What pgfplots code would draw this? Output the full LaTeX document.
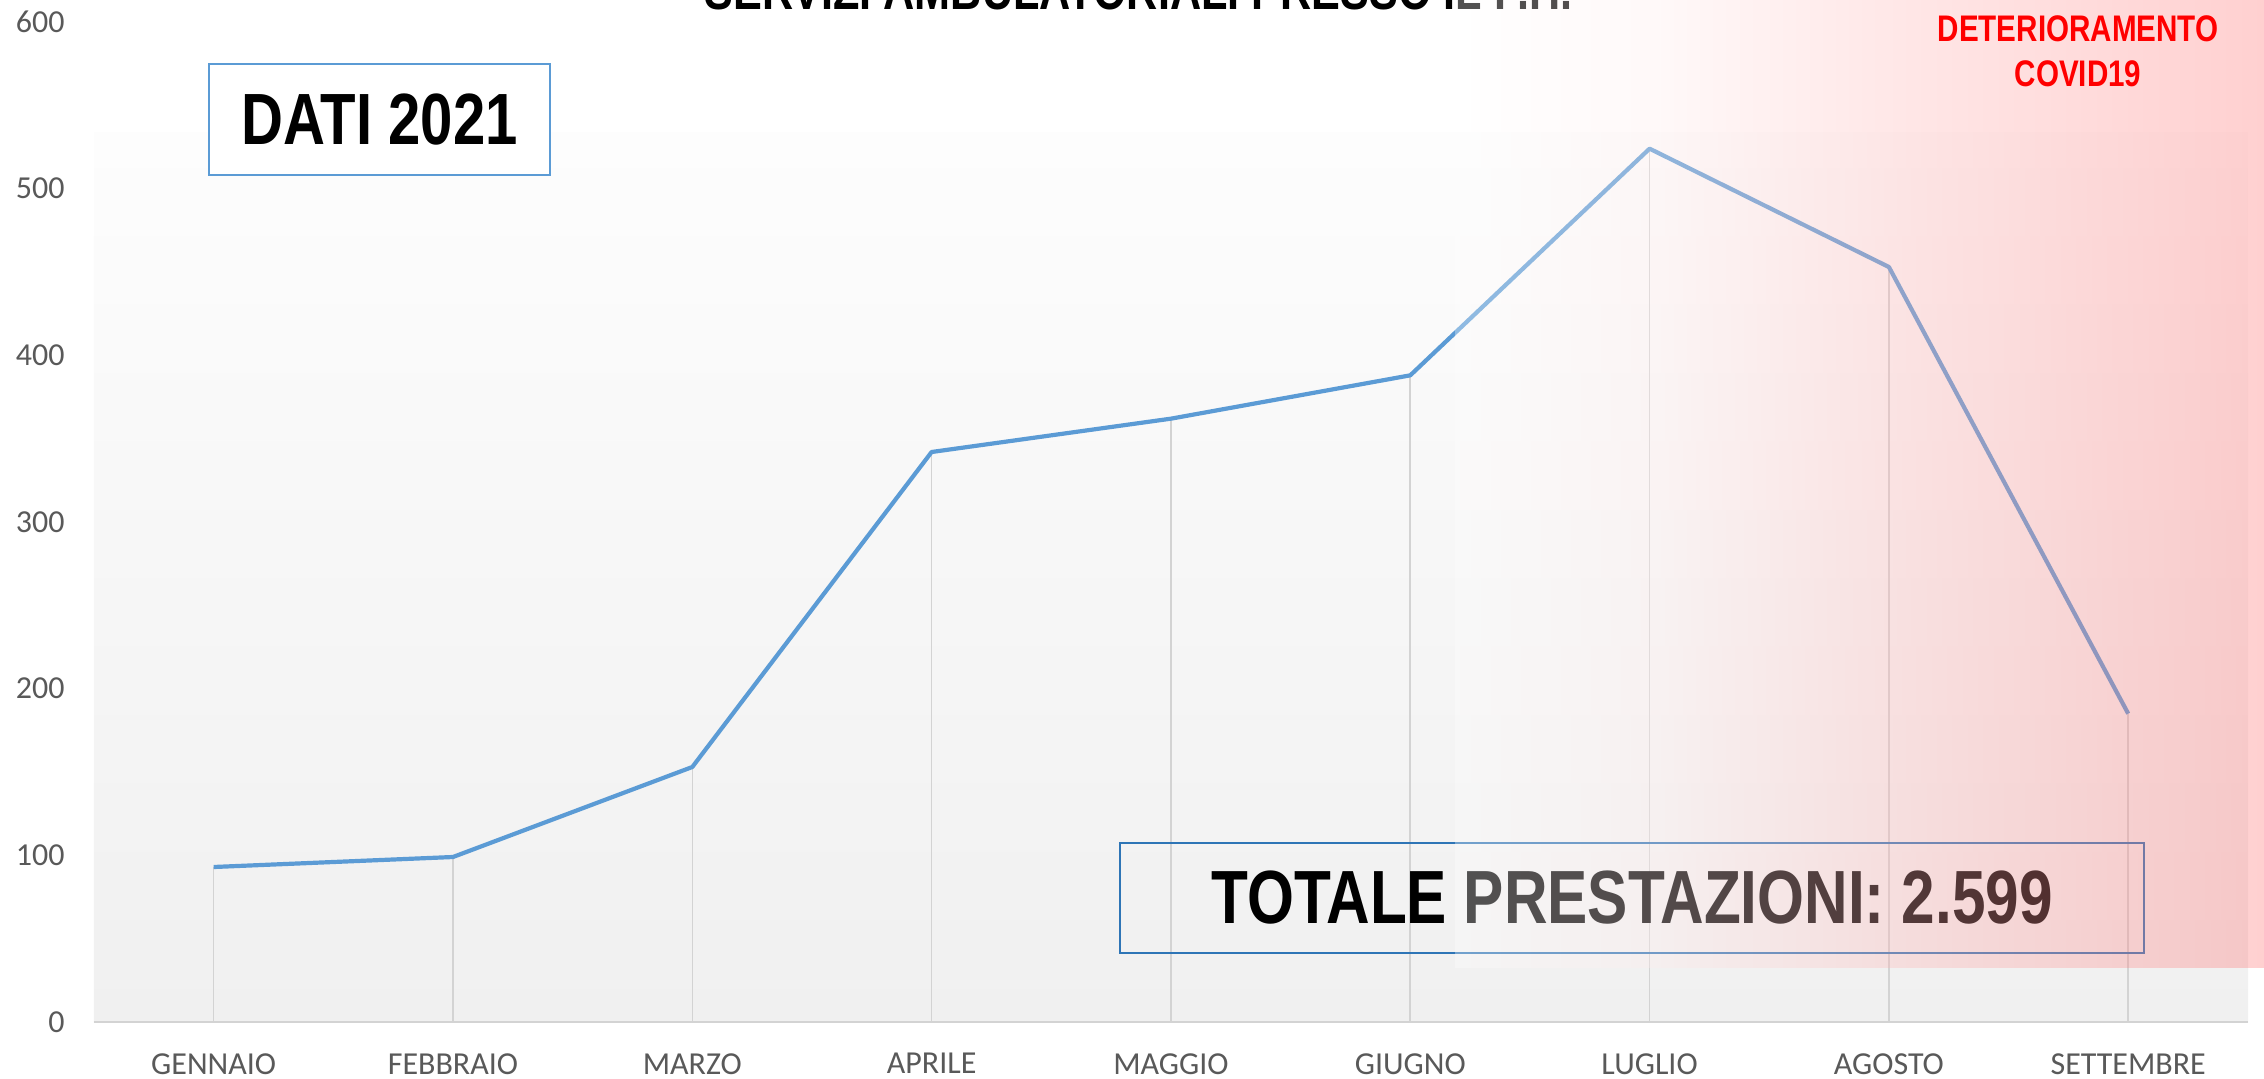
\documentclass[border=0pt]{standalone}
\usepackage{fontspec}
\setmainfont{Carlito}
\newfontfamily\narrow[FakeStretch=0.8]{Liberation Sans}
\usepackage{pgfplots}
\usepackage{pgfplotstable}
\pgfplotsset{compat=1.18}
\definecolor{lineblue}{HTML}{5B9BD5}
\definecolor{dropgray}{HTML}{D3D3D3}
\definecolor{ticktext}{HTML}{595959}
\definecolor{boxblue}{HTML}{2E75B6}
\definecolor{bgbot}{HTML}{F0F0F0}
\definecolor{bgtop}{HTML}{FDFDFD}
\pgfdeclarehorizontalshading{covid}{100bp}{color(0bp)=(white); color(25bp)=(white); color(37.5bp)=(red!8!white); color(52.5bp)=(red!30!white); color(75bp)=(red!58!white); color(100bp)=(red!58!white)}

\pgfplotstableread{
x y
0 93
1 99
2 153
3 342
4 362
5 388
6 524
7 453
8 185
}\datatable

\begin{document}
\begin{tikzpicture}[x=1pt,y=1pt]
\shade[top color=bgtop, bottom color=bgbot] (0,0) rectangle (1077,444.5);
\begin{axis}[
  at={(0,0)}, anchor=south west,
  scale only axis, width=1077pt, height=500pt,
  xmin=-0.5, xmax=8.5, ymin=0, ymax=600,
  axis x line*=bottom, axis y line*=left,
  x axis line style={draw=dropgray, line width=1pt},
  y axis line style={draw=none},
  major tick length=0pt,
  xtick style={draw=none}, ytick style={draw=none},
  xtick={0,...,8},
  xticklabels={GENNAIO,FEBBRAIO,MARZO,APRILE,MAGGIO,GIUGNO,LUGLIO,AGOSTO,SETTEMBRE},
  ytick={0,100,...,600},
  /pgf/number format/assume math mode=true,
  yticklabel style={anchor=east, inner sep=0pt, xshift=-14.5pt, font=\fontsize{16}{16}\selectfont, text=ticktext},
  xticklabel style={anchor=north, inner sep=0pt, yshift=-15.5pt, font=\fontsize{16}{16}\selectfont, text=ticktext},
  clip=false,
]
\addplot[dropgray, line width=0.8pt, ycomb, mark=none, forget plot] table[x=x,y=y] {\datatable};
\addplot[lineblue, line width=2.1pt, mark=none, line join=round] table[x=x,y=y] {\datatable};
\end{axis}
\node[draw=lineblue, line width=0.75pt, fill=white, minimum width=170.5pt, minimum height=55.5pt, inner sep=0pt]
  at (142.75,451.25) {\narrow\bfseries\fontsize{36.3}{36}\selectfont DATI 2021};
\node[draw=boxblue, line width=1pt, minimum width=512pt, minimum height=55pt, inner sep=0pt]
  at (769,62) {\narrow\bfseries\fontsize{37.7}{38}\selectfont TOTALE PRESTAZIONI: 2.599};
\node[anchor=base, inner sep=0pt] at (522.25,506.2) {\narrow\bfseries\fontsize{27}{27}\selectfont SERVIZI AMBULATORIALI PRESSO IL P.H.};
\shade[shading=covid, fill opacity=0.32] (680.5,27.5) rectangle (1090,520);
\node[anchor=base, inner sep=0pt, text=red] at (992,490) {\narrow\bfseries\fontsize{18.5}{18.5}\selectfont DETERIORAMENTO};
\node[anchor=base, inner sep=0pt, text=red] at (992,467.5) {\narrow\bfseries\fontsize{18.5}{18.5}\selectfont COVID19};
\pgfresetboundingbox
\useasboundingbox (-47,-28) rectangle (1085,511);
\end{tikzpicture}
\end{document}
